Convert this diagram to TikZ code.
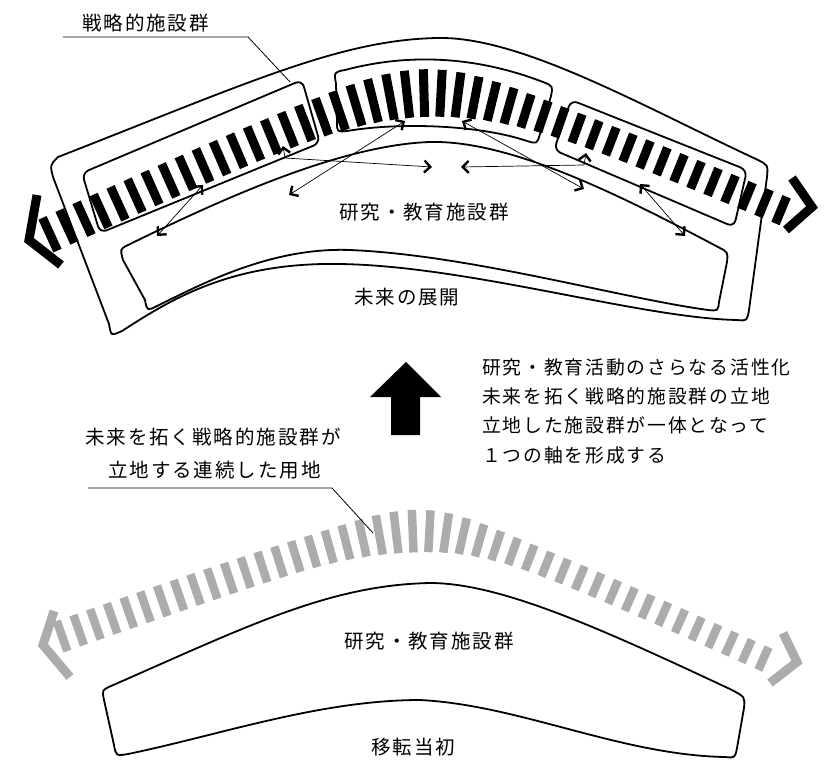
\documentclass[tikz,border=0pt]{standalone}
\usepackage{fontspec}
\newfontfamily\jp[LetterSpace=10]{Noto Sans CJK JP}
\usetikzlibrary{arrows.meta}
\definecolor{bargray}{RGB}{172,172,172}
\tikzset{
  outl/.style={line width=1.8pt, line join=round},
  lab/.style={inner sep=0pt, anchor=base west, font=\jp\fontsize{19.5}{19.5}\selectfont},
  labR/.style={lab, font=\jp\fontsize{18.8}{18.8}\selectfont},
  lead/.style={line width=0.8pt},
  barb/.tip={Straight Barb[length=6pt,width=12pt,line width=2.4pt]},
  dbl/.style={line width=0.7pt, barb-barb},
  chev/.style={line width=9pt, line join=miter, line cap=butt},
}
\newcommand\barcodedraw[1]{%
 \foreach \bn in {\bcnA,...,\bcnB}{%
  \pgfmathsetmacro\bcx{\bcxo+\bcsp*\bn}%
  \pgfmathsetmacro\bcdx{\bcx-\bcxc}%
  \pgfmathsetmacro\bcy{bcy(\bcdx)}%
  \pgfmathsetmacro\bcs{(bcy(\bcdx+1)-bcy(\bcdx-1))/2}%
  \pgfmathsetmacro\bcq{sqrt(1+(\bcs)*(\bcs))}%
  \pgfmathsetmacro\bch{bch(\bcdx)/2}%
  \pgfmathsetmacro\bctx{\bcwd/2/\bcq}%
  \pgfmathsetmacro\bcty{\bcwd/2*(\bcs)/\bcq}%
  \pgfmathsetmacro\bcnx{\bch*(\bcs)/\bcq}%
  \pgfmathsetmacro\bcny{-(\bch)/\bcq}%
  \fill[#1] ({\bcx-(\bctx)-(\bcnx)},{\bcy-(\bcty)-(\bcny)})
     -- ({\bcx+(\bctx)-(\bcnx)},{\bcy+(\bcty)-(\bcny)})
     -- ({\bcx+(\bctx)+(\bcnx)},{\bcy+(\bcty)+(\bcny)})
     -- ({\bcx-(\bctx)+(\bcnx)},{\bcy-(\bcty)+(\bcny)}) -- cycle;
 }}
\begin{document}
\begin{tikzpicture}[x=1pt,y=-1pt,
  declare function={
    bck(\x)=(\bckL+\bckR)/2-(\bckL-\bckR)/2*tanh(max(-4,min(4,\x/60)));
    bcy(\x)=\bcyc+bck(\x)*(100*sqrt((\x/100)*(\x/100)+(\bcr/100)*(\bcr/100))-\bcr);
    bch(\x)=(\bchL+\bchR)/2-(\bchL-\bchR)/2*tanh(max(-4,min(4,\x/100)))+\bcbump*exp(-min(9,(\x/\bcsig)*(\x/\bcsig)));
  }]
\useasboundingbox (0,0) rectangle (834,760);

% ---------- top barcode (black) ----------
\def\bcxo{50}\def\bcsp{17}\def\bcnA{0}\def\bcnB{43}
\def\bcxc{430}\def\bcyc{93}\def\bckL{0.47}\def\bckR{0.43}\def\bcr{90}
\def\bchL{36}\def\bchR{29}\def\bcbump{15}\def\bcsig{90}\def\bcwd{9}
\barcodedraw{black}
\draw[chev] (37,195) -- (29,240) -- (61,265);
\draw[chev] (792,178) -- (812,207) -- (786,230);

% ---------- top outlines ----------
\draw[outl] (53,177) .. controls (50,165) .. (58,157)
  .. controls (250,82) and (340,40) .. (437,38)
  .. controls (520,36) and (640,105) .. (758,160)
  .. controls (768,165) .. (767,177)
  -- (749,310)
  .. controls (747,321) .. (737,320)
  .. controls (640,318) and (470,266) .. (340,264)
  .. controls (230,262) and (170,300) .. (122,331)
  .. controls (111,336) .. (109,324)
  -- cycle;
\draw[outl] (123,260) .. controls (120,249) .. (128,245)
  .. controls (220,200) and (340,145) .. (430,142)
  .. controls (510,140) and (620,195) .. (718,247)
  .. controls (728,252) .. (727,262)
  -- (719,302)
  .. controls (718,311) .. (708,310)
  .. controls (620,298) and (470,255) .. (350,250)
  .. controls (270,247) and (200,285) .. (157,306)
  .. controls (147,311) .. (145,300)
  -- cycle;
\draw[outl, rounded corners=7pt] (82,173) -- (302,80) -- (320,143) -- (100,233) -- cycle;
\draw[outl] (336,84) .. controls (334,72) .. (345,70)
  .. controls (390,58) and (460,50) .. (543,82)
  .. controls (553,86) .. (551,96)
  -- (540,134)
  .. controls (537,144) .. (527,141)
  .. controls (480,125) and (400,122) .. (347,131)
  .. controls (337,132) .. (337,122) -- cycle;
\draw[outl, rounded corners=7pt] (571,100) -- (747,170) -- (734,227) -- (554,150) -- cycle;

% ---------- arrows ----------
\coordinate (a1s) at (203,185); \coordinate (a1e) at (157,236);
\coordinate (a2s) at (283,146); \coordinate (a2k) at (285,158); \coordinate (a2e) at (432,167);
\coordinate (a3s) at (405,121); \coordinate (a3e) at (289,195);
\coordinate (a4s) at (462,121); \coordinate (a4e) at (584,189);
\coordinate (a5s) at (586,153); \coordinate (a5k) at (584,165); \coordinate (a5e) at (461,167);
\coordinate (a6s) at (640,184); \coordinate (a6e) at (685,236);
\draw[dbl] (a1s) -- (a1e);
\draw[dbl] (a2s) -- (a2k) -- (a2e);
\draw[dbl] (a3s) -- (a3e);
\draw[dbl] (a4s) -- (a4e);
\draw[dbl] (a5s) -- (a5k) -- (a5e);
\draw[dbl] (a6s) -- (a6e);

% ---------- top labels ----------
\node[lab] (tSenryaku) at (82,30.5) {戦略的施設群};
\coordinate (l1a) at (63,37); \coordinate (l1b) at (248,37); \coordinate (l1c) at (290,82);
\draw[lead] (l1a) -- (l1b) -- (l1c);
\node[lab] (tKenkyuTop) at (339,219.5) {研究・教育施設群};
\node[lab] (tMirai) at (354,304.5) {未来の展開};

% ---------- middle ----------
\fill (406,362) -- (441,397) -- (420,397) -- (420,435) -- (391,435) -- (391,397) -- (370,397) -- cycle;
\node[labR] (r1) at (482,374) {研究・教育活動のさらなる活性化};
\node[labR] (r2) at (482,403) {未来を拓く戦略的施設群の立地};
\node[labR] (r3) at (482,432) {立地した施設群が一体となって};
\node[labR] (r4) at (482,462) {１つの軸を形成する};
\node[lab] (m1) at (85,444.5) {未来を拓く戦略的施設群が};
\node[lab] (m2) at (108,477.5) {立地する連続した用地};
\coordinate (l2a) at (88,488); \coordinate (l2b) at (332,488); \coordinate (l2c) at (373,533);

% ---------- bottom barcode (gray) ----------
\def\bcxo{62}\def\bcsp{16.7}\def\bcnA{0}\def\bcnB{42}
\def\bcxc{420}\def\bcyc{531}\def\bckL{0.36}\def\bckR{0.46}\def\bcr{74}
\def\bchL{32}\def\bchR{25}\def\bcbump{14}\def\bcsig{70}\def\bcwd{8.5}
\barcodedraw{bargray}
\draw[chev, bargray] (54,611) -- (43,645) -- (70,677);
\draw[chev, bargray] (783,633) -- (797,662) -- (770,683);
\draw[lead] (l2a) -- (l2b) -- (l2c);

% ---------- bottom band ----------
\draw[outl] (104,700) .. controls (102,690) .. (111,686)
  .. controls (250,625) and (330,585) .. (430,583)
  .. controls (500,583) and (600,628) .. (732,690)
  .. controls (745,697) .. (744,708)
  -- (737,748)
  .. controls (735,758) .. (725,757)
  .. controls (620,755) and (520,705) .. (420,700)
  .. controls (320,700) and (220,735) .. (128,754)
  .. controls (116,756) .. (114,745)
  -- cycle;
\node[lab] (bKenkyu) at (344,648.5) {研究・教育施設群};
\node[lab] (bIten) at (371,754.5) {移転当初};
\end{tikzpicture}
\end{document}
